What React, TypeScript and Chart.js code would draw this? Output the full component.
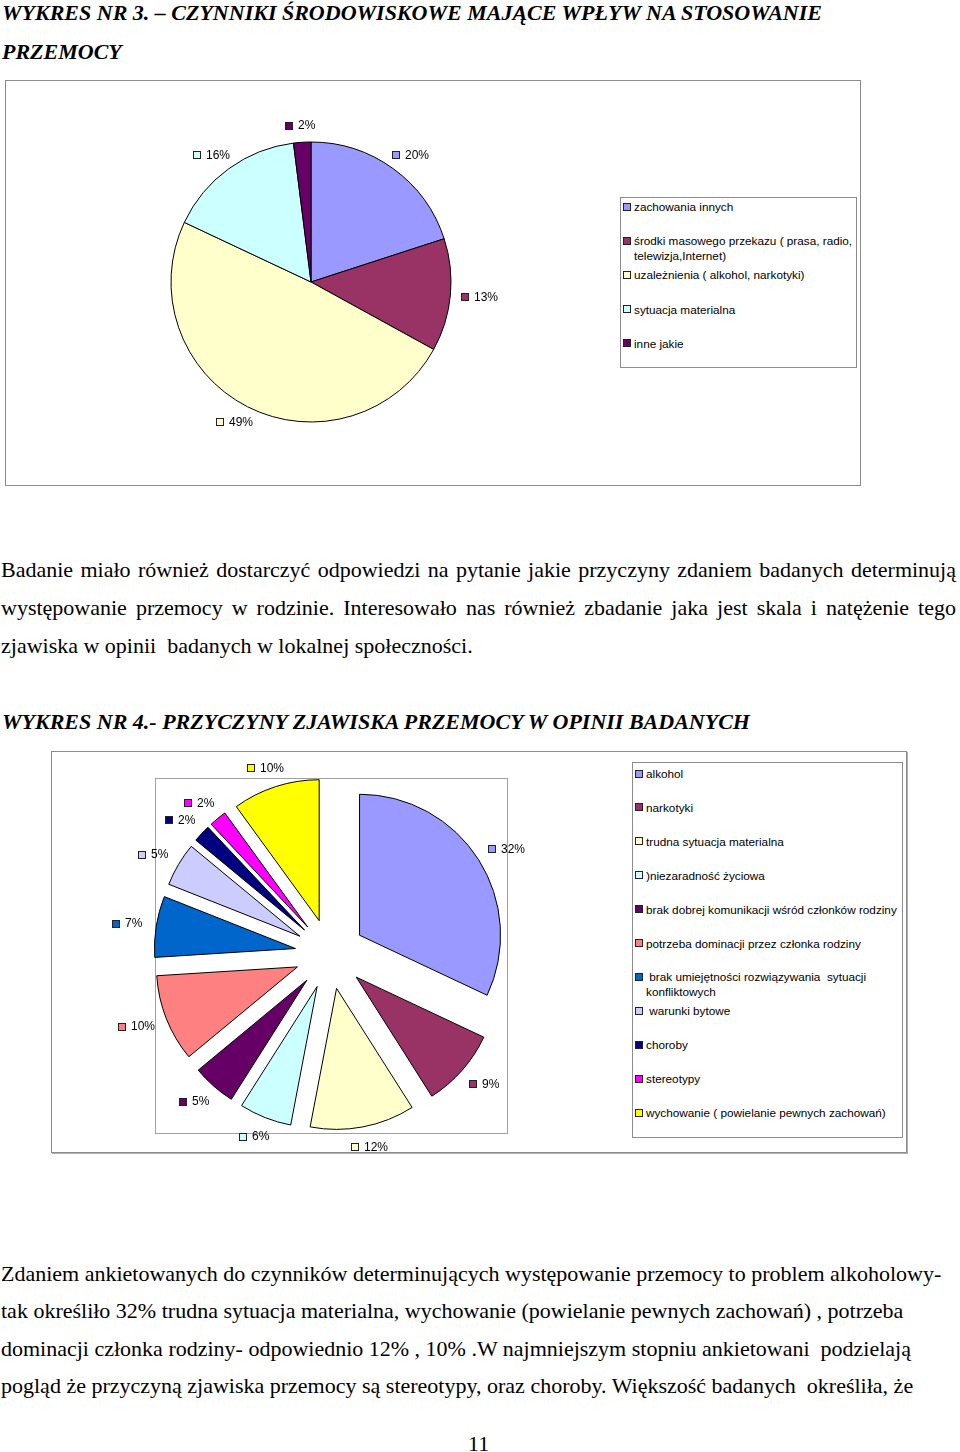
import React, { useEffect, useRef } from 'react';
import { Chart, registerables } from 'chart.js';

Chart.register(...registerables);

// ---------- DATA ----------
const chart1Labels = [
  'zachowania innych',
  'środki masowego przekazu ( prasa, radio, telewizja,Internet)',
  'uzależnienia ( alkohol, narkotyki)',
  'sytuacja materialna',
  'inne jakie',
];
const chart1Values = [20, 13, 49, 16, 2];
const chart1Colors = ['#9999FF', '#993366', '#FFFFCC', '#CCFFFF', '#660066'];

const chart2Labels = [
  'alkohol',
  'narkotyki',
  'trudna sytuacja materialna',
  ')niezaradność życiowa',
  'brak dobrej komunikacji wśród członków rodziny',
  'potrzeba dominacji przez członka rodziny',
  ' brak umiejętności rozwiązywania  sytuacji konfliktowych',
  ' warunki bytowe',
  'choroby',
  'stereotypy',
  'wychowanie ( powielanie pewnych zachowań)',
];
const chart2Values = [32, 9, 12, 6, 5, 10, 7, 5, 2, 2, 10];
const chart2Colors = [
  '#9999FF', '#993366', '#FFFFCC', '#CCFFFF', '#660066', '#FF8080',
  '#0066CC', '#CCCCFF', '#000080', '#FF00FF', '#FFFF00',
];

const title1Lines = ['WYKRES NR 3. – CZYNNIKI ŚRODOWISKOWE MAJĄCE WPŁYW NA STOSOWANIE', 'PRZEMOCY'];
const para1Lines = [
  'Badanie miało również dostarczyć odpowiedzi na pytanie jakie przyczyny zdaniem badanych determinują',
  'występowanie przemocy w rodzinie. Interesowało nas również zbadanie jaka jest skala i natężenie tego',
  'zjawiska w opinii  badanych w lokalnej społeczności.',
];
const title2Text = 'WYKRES NR 4.- PRZYCZYNY ZJAWISKA PRZEMOCY W OPINII BADANYCH';
const para2Lines = [
  'Zdaniem ankietowanych do czynników determinujących występowanie przemocy to problem alkoholowy-',
  'tak określiło 32% trudna sytuacja materialna, wychowanie (powielanie pewnych zachowań) , potrzeba',
  'dominacji członka rodziny- odpowiednio 12% , 10% .W najmniejszym stopniu ankietowani  podzielają',
  'pogląd że przyczyną zjawiska przemocy są stereotypy, oraz choroby. Większość badanych  określiła, że',
];
const pageNumber = '11';

// ---------- PLUGIN: explode + percentage labels ----------
const pieExtras = {
  id: 'pieExtras',
  afterDatasetsUpdate(chart: any, _args: any, opts: any) {
    const d = opts.explode || 0;
    if (!d) return;
    const meta = chart.getDatasetMeta(0);
    meta.data.forEach((arc: any) => {
      const mid = (arc.startAngle + arc.endAngle) / 2;
      arc.x += Math.cos(mid) * d;
      arc.y += Math.sin(mid) * d;
    });
  },
  afterDatasetsDraw(chart: any, _args: any, opts: any) {
    const ctx = chart.ctx;
    const meta = chart.getDatasetMeta(0);
    const ds = chart.data.datasets[0];
    const gap = opts.gap || 10;
    const sq = 7;
    const sgap = 5;
    const h = 12;
    ctx.save();
    ctx.font = `${opts.fontSize || 12}px "Liberation Sans", Arial, sans-serif`;
    ctx.textBaseline = 'middle';
    ctx.textAlign = 'left';
    meta.data.forEach((arc: any, i: number) => {
      const mid = (arc.startAngle + arc.endAngle) / 2;
      const dx = Math.cos(mid);
      const dy = Math.sin(mid);
      const r = arc.outerRadius + gap;
      const px = arc.x + dx * r;
      const py = arc.y + dy * r;
      const text = `${ds.data[i]}%`;
      const tw = ctx.measureText(text).width;
      const w = sq + 1 + sgap + tw;
      const cx = px + (dx * w) / 2;
      const cy = py + (dy * h) / 2;
      const left = Math.round(cx - w / 2);
      const top = Math.round(cy - sq / 2);
      ctx.fillStyle = ds.backgroundColor[i];
      ctx.fillRect(left, top, sq, sq);
      ctx.strokeStyle = '#222';
      ctx.lineWidth = 1;
      ctx.strokeRect(left + 0.5, top + 0.5, sq, sq);
      ctx.fillStyle = '#000';
      ctx.fillText(text, left + sq + 1 + sgap, Math.round(cy) + 0.5);
    });
    ctx.restore();
  },
};

type PieProps = {
  left: number; top: number; width: number; height: number;
  padding: { left: number; right: number; top: number; bottom: number };
  radius: number; labels: string[]; values: number[]; colors: string[];
  explode: number; gap: number;
};

function PieChart(p: PieProps) {
  const ref = useRef<HTMLCanvasElement | null>(null);
  useEffect(() => {
    if (!ref.current) return;
    const chart = new Chart(ref.current, {
      type: 'pie',
      data: {
        labels: p.labels,
        datasets: [
          {
            data: p.values,
            backgroundColor: p.colors,
            borderColor: '#000',
            borderWidth: 1,
          },
        ],
      },
      options: {
        responsive: false,
        animation: false,
        events: [],
        radius: p.radius,
        layout: { padding: p.padding },
        plugins: {
          legend: { display: false },
          tooltip: { enabled: false },
          pieExtras: { explode: p.explode, gap: p.gap, fontSize: 12 },
        } as any,
      } as any,
      plugins: [pieExtras],
    });
    return () => chart.destroy();
  }, []);
  return (
    <canvas
      ref={ref}
      width={p.width}
      height={p.height}
      style={{ position: 'absolute', left: p.left, top: p.top, width: p.width, height: p.height }}
    />
  );
}

type LegendProps = {
  labels: string[]; colors: string[];
  box: { left: number; top: number; width: number; height: number };
  firstY: number; step: number; sqLeft: number; textLeft: number; textWidth: number;
};

function Legend(p: LegendProps) {
  return (
    <>
      <div
        style={{
          position: 'absolute', left: p.box.left, top: p.box.top, width: p.box.width, height: p.box.height,
          border: '1px solid #8c8c8c', boxSizing: 'border-box', background: '#fff',
        }}
      />
      {p.labels.map((l, i) => {
        const cy = p.firstY + i * p.step;
        return (
          <React.Fragment key={i}>
            <div
              style={{
                position: 'absolute', left: p.sqLeft, top: Math.round(cy - 4), width: 8, height: 8,
                background: p.colors[i], border: '1px solid #222', boxSizing: 'border-box',
              }}
            />
            <div
              style={{
                position: 'absolute', left: p.textLeft, top: cy - 7.5, width: p.textWidth,
                font: '11.75px "Liberation Sans", Arial, sans-serif', lineHeight: '15px',
                whiteSpace: 'pre-wrap', color: '#000',
              }}
            >
              {l}
            </div>
          </React.Fragment>
        );
      })}
    </>
  );
}

const serif = '"Liberation Serif", "Times New Roman", serif';

function TextLine({ text, baseline, left = 1, justify = false, bold = false, italic = false, width = 955 }:
  { text: string; baseline: number; left?: number; justify?: boolean; bold?: boolean; italic?: boolean; width?: number }) {
  return (
    <div
      style={{
        position: 'absolute', left, top: baseline - 26.4, width: justify ? width : undefined,
        fontFamily: serif, fontSize: 22, lineHeight: '38px',
        fontWeight: bold ? 'bold' : 'normal', fontStyle: italic ? 'italic' : 'normal',
        whiteSpace: 'pre', textAlign: justify ? 'justify' : 'left',
        textAlignLast: justify ? 'justify' : 'left', color: '#000',
      } as any}
    >
      {text}
    </div>
  );
}

export default function App() {
  return (
    <div
      style={{
        position: 'absolute', left: 0, top: 0, width: 960, height: 1452,
        background: '#fff', overflow: 'hidden',
      }}
    >
      <TextLine text={title1Lines[0]} baseline={20.5} bold italic left={2} />
      <TextLine text={title1Lines[1]} baseline={59.3} bold italic left={2} />

      {/* Chart 1 */}
      <div
        style={{
          position: 'absolute', left: 5, top: 80, width: 856, height: 406,
          border: '1px solid #8c8c8c', boxSizing: 'border-box',
        }}
      />
      <Legend
        labels={chart1Labels}
        colors={chart1Colors}
        box={{ left: 620, top: 197, width: 237, height: 171 }}
        firstY={206.5}
        step={34.2}
        sqLeft={623}
        textLeft={634}
        textWidth={222}
      />
      <PieChart
        left={5} top={80} width={855} height={405}
        padding={{ left: 0, top: 0, right: 243, bottom: 1 }}
        radius={140}
        labels={chart1Labels} values={chart1Values} colors={chart1Colors}
        explode={0} gap={11}
      />

      {para1Lines.map((t, i) => (
        <TextLine key={i} text={t} baseline={577.5 + i * 37.8} justify={i < para1Lines.length - 1} />
      ))}

      <TextLine text={title2Text} baseline={729.5} bold italic left={2} />

      {/* Chart 2 */}
      <div
        style={{
          position: 'absolute', left: 51, top: 751, width: 856, height: 402,
          border: '1px solid #8c8c8c', boxSizing: 'border-box', boxShadow: '1px 1px 0 #b0b0b0',
        }}
      />
      <div
        style={{
          position: 'absolute', left: 155, top: 778, width: 353, height: 356,
          border: '1px solid #a0a0a0', boxSizing: 'border-box',
        }}
      />
      <Legend
        labels={chart2Labels}
        colors={chart2Colors}
        box={{ left: 632, top: 762, width: 271, height: 376 }}
        firstY={773.5}
        step={33.9}
        sqLeft={635}
        textLeft={646}
        textWidth={255}
      />
      <PieChart
        left={51} top={751} width={855} height={401}
        padding={{ left: 0, top: 5, right: 297, bottom: 0 }}
        radius={141}
        labels={chart2Labels} values={chart2Values} colors={chart2Colors}
        explode={35} gap={14}
      />

      {para2Lines.map((t, i) => (
        <TextLine key={i} text={t} baseline={1281 + i * 37.6} />
      ))}

      <div
        style={{
          position: 'absolute', left: 468, top: 1451 - 26.4, fontFamily: serif, fontSize: 22,
          lineHeight: '38px', color: '#000',
        }}
      >
        {pageNumber}
      </div>
    </div>
  );
}
